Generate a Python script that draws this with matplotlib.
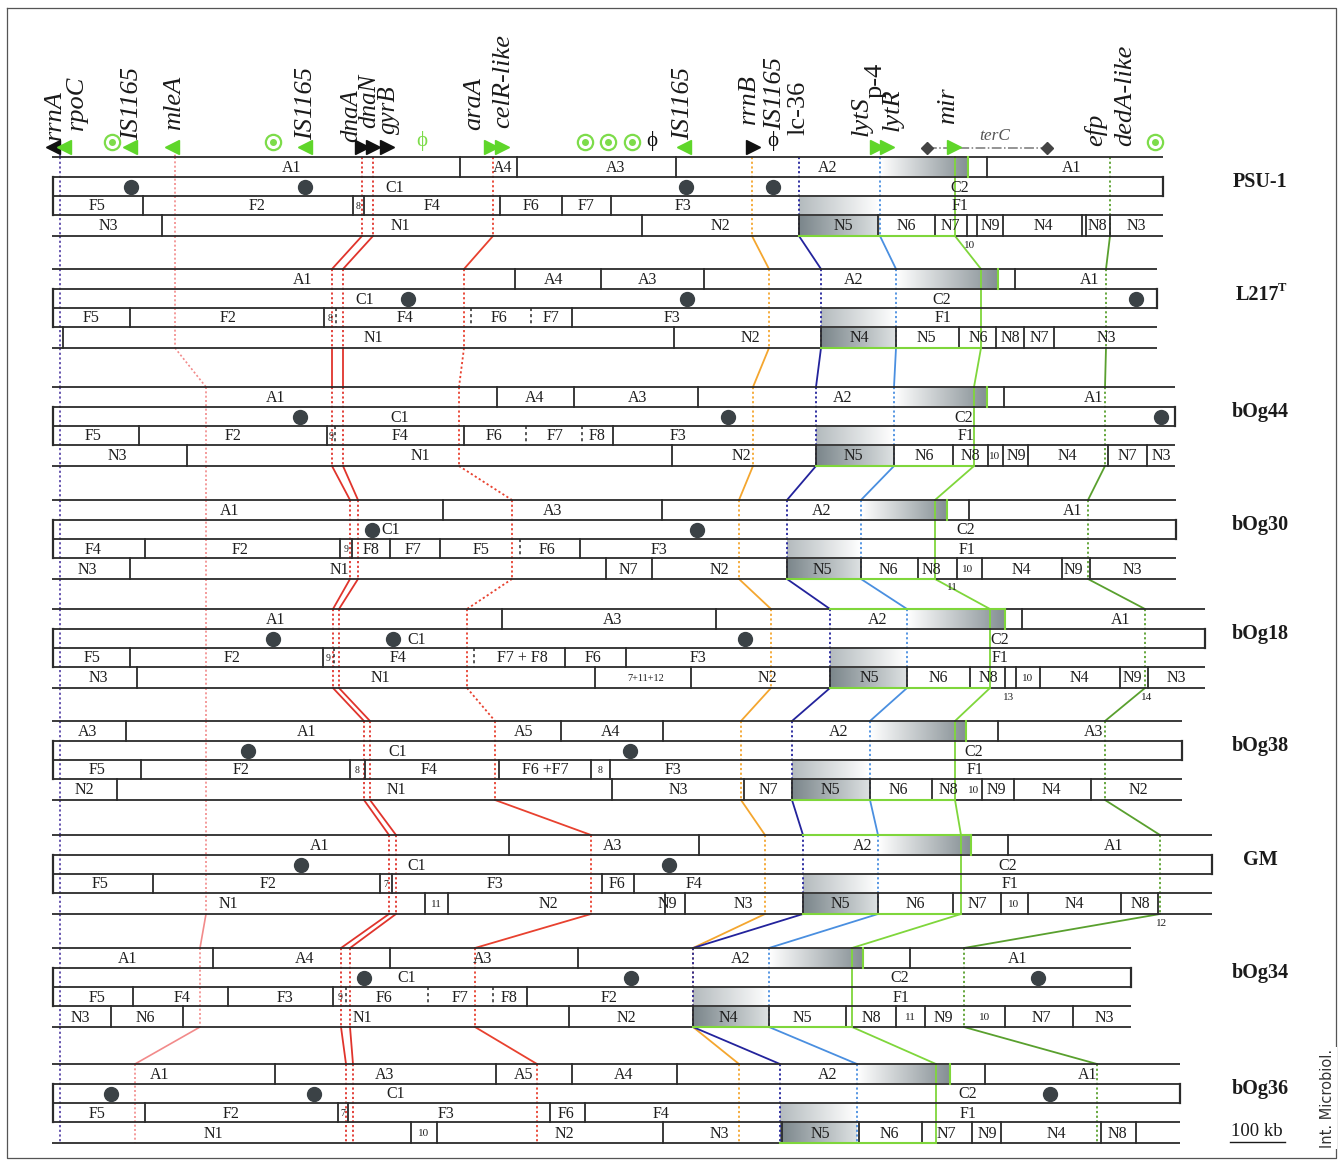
import numpy as np
import matplotlib
matplotlib.use("Agg")
import matplotlib.pyplot as plt
import matplotlib.colors as mcolors

SERIF = ["Liberation Serif", "DejaVu Serif"]

# ---------------- data (map positions) ----------------
STRAINS = ["PSU-1", "L217", "bOg44", "bOg30", "bOg18", "bOg38", "GM", "bOg34", "bOg36"]
ROW_TOP = [157, 269, 387, 500, 609, 721, 835, 948, 1064]
ROW_START = 52
ROW_END = [1163, 1157, 1175, 1176, 1205, 1182, 1212, 1131, 1180]

A_DIV = [[460, 517, 676, 987], [515, 601, 704, 1015], [497, 574, 698, 1004],
         [443, 662, 969], [502, 716, 1022], [126, 561, 663, 998],
         [509, 699, 1008], [213, 390, 578, 910], [275, 496, 572, 677, 985]]
A_LAB = [[("A1", 292), ("A4", 503), ("A3", 616), ("A2", 828), ("A1", 1072)],
         [("A1", 303), ("A4", 554), ("A3", 648), ("A2", 854), ("A1", 1090)],
         [("A1", 276), ("A4", 535), ("A3", 638), ("A2", 843), ("A1", 1094)],
         [("A1", 230), ("A3", 553), ("A2", 822), ("A1", 1073)],
         [("A1", 276), ("A3", 613), ("A2", 878), ("A1", 1121)],
         [("A3", 88), ("A1", 307), ("A5", 524), ("A4", 611), ("A2", 839), ("A3", 1094)],
         [("A1", 320), ("A3", 613), ("A2", 863), ("A1", 1114)],
         [("A1", 128), ("A4", 305), ("A3", 483), ("A2", 741), ("A1", 1018)],
         [("A1", 160), ("A3", 385), ("A5", 524), ("A4", 624), ("A2", 828), ("A1", 1088)]]
A_GRAD_END = [968, 998, 987, 947, 1005, 966, 971, 863, 950]
GREEN_TOP = [False, False, False, False, True, False, True, False, False]

C_LAB = [[("C1", 395), ("C2", 960)], [("C1", 365), ("C2", 942)], [("C1", 400), ("C2", 964)],
         [("C1", 391), ("C2", 966)], [("C1", 417), ("C2", 1000)], [("C1", 398), ("C2", 974)],
         [("C1", 417), ("C2", 1008)], [("C1", 407), ("C2", 900)], [("C1", 396), ("C2", 968)]]
DOTS = [[131, 305, 686, 773], [408, 687, 1136], [300, 728, 1161], [372, 697],
        [273, 393, 745], [248, 630], [301, 669], [364, 631, 1038], [111, 314, 1050]]

F_DIV = [[143, 353, 364, 500, 562, 611], [130, 324, 572], [139, 327, 464, 613],
         [145, 340, 352, 390, 440, 580], [130, 323, 565, 626], [141, 350, 365, 499, 591, 610],
         [153, 380, 392, 602, 634], [133, 228, 333, 527], [145, 338, 348, 550, 585]]
F_DASH = [[], [336, 471, 531], [335, 526, 582], [520], [334, 474], [], [], [346, 428, 493], []]
F_LAB = [[("F5", 97), ("F2", 257), ("8", 358), ("F4", 432), ("F6", 531), ("F7", 586), ("F3", 683), ("F1", 960)],
         [("F5", 91), ("F2", 228), ("8", 330), ("F4", 405), ("F6", 499), ("F7", 551), ("F3", 672), ("F1", 943)],
         [("F5", 93), ("F2", 233), ("9", 331), ("F4", 400), ("F6", 494), ("F7", 555), ("F8", 597), ("F3", 678), ("F1", 966)],
         [("F4", 93), ("F2", 240), ("9", 346), ("F8", 371), ("F7", 413), ("F5", 481), ("F6", 547), ("F3", 659), ("F1", 967)],
         [("F5", 92), ("F2", 232), ("9", 328), ("F4", 398), ("F7 + F8", 522), ("F6", 593), ("F3", 698), ("F1", 1000)],
         [("F5", 97), ("F2", 241), ("8", 357), ("F4", 429), ("F6 +F7", 545), ("8", 600), ("F3", 673), ("F1", 975)],
         [("F5", 100), ("F2", 268), ("7", 386), ("F3", 495), ("F6", 617), ("F4", 694), ("F1", 1010)],
         [("F5", 97), ("F4", 182), ("F3", 285), ("9", 340), ("F6", 384), ("F7", 460), ("F8", 509), ("F2", 609), ("F1", 901)],
         [("F5", 97), ("F2", 231), ("7", 343), ("F3", 446), ("F6", 566), ("F4", 661), ("F1", 968)]]

N_DIV = [[162, 642, 799, 878, 935, 967, 977, 1003, 1082, 1086, 1110],
         [63, 674, 821, 896, 959, 996, 1024, 1054],
         [187, 672, 816, 894, 953, 988, 1003, 1028, 1108, 1147],
         [130, 606, 652, 787, 861, 918, 957, 982, 1062, 1090],
         [137, 595, 691, 830, 907, 970, 1005, 1016, 1040, 1120, 1148],
         [117, 612, 744, 792, 870, 932, 982, 1014, 1091],
         [425, 448, 665, 685, 803, 878, 953, 1001, 1028, 1121, 1158],
         [111, 183, 569, 693, 769, 846, 896, 925, 1005, 1073],
         [411, 437, 663, 782, 859, 922, 972, 1001, 1101, 1136]]
N_LAB = [[("N3", 108), ("N1", 400), ("N2", 720), ("N5", 843), ("N6", 906), ("N7", 950), ("N9", 990), ("N4", 1043), ("N8", 1097), ("N3", 1136)],
         [("N1", 373), ("N2", 750), ("N4", 859), ("N5", 926), ("N6", 978), ("N8", 1010), ("N7", 1039), ("N3", 1106)],
         [("N3", 117), ("N1", 420), ("N2", 741), ("N5", 853), ("N6", 924), ("N8", 970), ("10", 995), ("N9", 1016), ("N4", 1067), ("N7", 1127), ("N3", 1161)],
         [("N3", 87), ("N1", 339), ("N7", 628), ("N2", 719), ("N5", 822), ("N6", 888), ("N8", 931), ("10", 968), ("N4", 1021), ("N9", 1073), ("N3", 1132)],
         [("N3", 98), ("N1", 380), ("7+11+12", 646), ("N2", 767), ("N5", 869), ("N6", 938), ("N8", 988), ("10", 1028), ("N4", 1079), ("N9", 1132), ("N3", 1176)],
         [("N2", 84), ("N1", 396), ("N3", 678), ("N7", 768), ("N5", 830), ("N6", 898), ("N8", 948), ("10", 974), ("N9", 996), ("N4", 1051), ("N2", 1138)],
         [("N1", 228), ("11", 436), ("N2", 548), ("N9", 667), ("N3", 743), ("N5", 840), ("N6", 915), ("N7", 977), ("10", 1014), ("N4", 1074), ("N8", 1140)],
         [("N3", 80), ("N6", 145), ("N1", 362), ("N2", 626), ("N4", 728), ("N5", 802), ("N8", 871), ("11", 910), ("N9", 943), ("10", 985), ("N7", 1041), ("N3", 1104)],
         [("N1", 213), ("10", 424), ("N2", 564), ("N3", 719), ("N5", 820), ("N6", 889), ("N7", 946), ("N9", 987), ("N4", 1056), ("N8", 1117)]]
BELOW_LAB = [(0, "10", 970), (3, "11", 952), (4, "13", 1009), (4, "14", 1147), (6, "12", 1162)]

# marker tracks through the strains
T_RRNA = [60, 60, 60, 60, 60, 60, 60, 60, 60]
T_MLEA = [175, 175, 206, 206, 206, 206, 206, 200, 135]
T_DNAA = [362, 332, 332, 350, 333, 364, 389, 341, 346]
T_DNAN = [373, 343, 343, 358, 339, 370, 396, 350, 353]
T_ARAA = [493, 464, 459, 512, 467, 495, 591, 475, 537]
T_RRNB = [752, 769, 753, 739, 771, 741, 765, 693, 739]
T_LC36 = [799, 821, 816, 787, 830, 792, 803, 693, 780]
T_LYTR = [880, 896, 894, 861, 907, 870, 878, 769, 857]
T_MIR = [955, 981, 974, 935, 990, 955, 961, 852, 936]
T_EFP = [1110, 1106, 1105, 1088, 1145, 1105, 1160, 964, 1097]

# annotation row above PSU-1
GENE_LAB = [("rrnA", 55, 140, True), ("rpoC", 77, 130, True), ("IS1165", 132, 140, True),
            ("mleA", 174, 130, True), ("IS1165", 306, 140, True), ("dnaA", 351, 142, True),
            ("dnaN", 369, 128, True), ("gyrB", 389, 134, True), ("araA", 474, 130, True),
            ("celR-like", 503, 128, True), ("IS1165", 683, 140, True), ("rrnB", 749, 124, True),
            ("IS1165", 775, 130, True), ("lc-36", 798, 135, False), ("lytS", 862, 136, True),
            ("p-4", 876, 98, False), ("lytR", 893, 131, True), ("mir", 948, 124, True),
            ("efp", 1096, 146, True), ("dedA-like", 1125, 146, True)]
MARK_LEFT_BLACK = [53]
MARK_LEFT_GREEN = [64, 130, 172, 305, 684]
MARK_RIGHT_BLACK = [362, 373, 387, 753]
MARK_RIGHT_GREEN = [491, 502, 877, 887, 954]
TARGETS = [112, 273, 585, 608, 632, 1155]
PHI_GREEN = [422]
PHI_BLACK = [652, 773]
TERC = [927, 1047]

# ---------------- drawing ----------------
ROW_OFF = [0, 20, 39, 58, 79]
LINE = "#2b2b2b"
GREEN_L = "#7fd63b"

fig = plt.figure(figsize=(13.44, 11.61), dpi=100)
ax = fig.add_axes([0, 0, 1, 1])
ax.axis("off")


def ys_of(i):
    return [ROW_TOP[i] + o for o in ROW_OFF]


def hgrad(x0, x1, y0, y1, cl, cr, z=1):
    t = np.linspace(0, 1, 80)
    a = np.array(mcolors.to_rgb(cl))
    b = np.array(mcolors.to_rgb(cr))
    img = (a[None, :] * (1 - t[:, None]) + b[None, :] * t[:, None])[None, :, :]
    ax.imshow(img, extent=(x0, x1, y1, y0), aspect="auto", zorder=z, interpolation="bilinear")


def seg_text(x, y, s):
    if s in ("7", "8", "9"):
        fs = 7
    elif s in ("10", "11", "12", "13", "14"):
        fs = 8
    elif s == "7+11+12":
        fs = 7.5
    else:
        fs = 11.5
    ax.text(x, y, s, ha="center", va="center", fontsize=fs, family=SERIF, color="#1e1e1e", zorder=6)


# frame
ax.plot([7, 1336, 1336, 7, 7], [8, 8, 1158, 1158, 8], color="#555555", lw=0.9, zorder=0)

# gradients (inverted region)
for i in range(9):
    y = ys_of(i)
    hgrad(T_LYTR[i], A_GRAD_END[i], y[0] + 1, y[1] - 1, "#ffffff", "#858f94")
    hgrad(T_LC36[i], T_LYTR[i], y[2] + 1, y[3] - 1, "#b4bbbe", "#ffffff")
    hgrad(T_LC36[i], T_LYTR[i], y[3] + 1, y[4] - 1, "#7b868b", "#dde1e2")

# tracks
DOT = (0, (1.2, 1.4))
tracks = [
    (T_RRNA, "#5a48a8", DOT, ["dot"] * 8, 1.3),
    (T_MLEA, "#f28a8a", DOT, ["dot"] * 6 + ["solid"] * 2, 1.2),
    (T_DNAA, "#e0342c", DOT, ["solid"] * 8, 1.3),
    (T_DNAN, "#e0342c", DOT, ["solid"] * 8, 1.3),
    (T_ARAA, "#e8412f", DOT, ["solid", "dot", "dot", "dot", "dot", "solid", "solid", "solid"], 1.3),
    (T_RRNB, "#f4a62f", DOT, ["solid"] * 8, 1.3),
    (T_LC36, "#23239c", DOT, ["solid"] * 8, 1.3),
    (T_LYTR, "#4a8fe0", DOT, ["solid"] * 8, 1.3),
    (T_MIR, GREEN_L, "-", ["solid"] * 8, 1.3),
    (T_EFP, "#59a02e", DOT, ["solid"] * 8, 1.3),
]
for xs, col, ins, conn, lw in tracks:
    for i in range(9):
        y = ys_of(i)
        ax.plot([xs[i], xs[i]], [y[0], y[4]], color=col, lw=lw, ls=ins, zorder=2)
        if i < 8:
            ls = DOT if conn[i] == "dot" else "-"
            ax.plot([xs[i], xs[i + 1]], [y[4], ROW_TOP[i + 1]], color=col, lw=lw, ls=ls, zorder=2)
for xs in (T_RRNA, T_MLEA):
    ax.plot([xs[0], xs[0]], [150, ROW_TOP[0]], color="#5a48a8" if xs is T_RRNA else "#f28a8a",
            lw=1.3, ls=DOT, zorder=2)

# strain boxes
for i in range(9):
    y = ys_of(i)
    x0, x1 = ROW_START, ROW_END[i]
    for yy in y:
        ax.plot([x0, x1], [yy, yy], color=LINE, lw=1.3, zorder=3, solid_capstyle="butt")
    ax.plot([x0 + 1, x0 + 1], [y[1], y[3]], color=LINE, lw=1.6, zorder=3)
    ax.plot([x1, x1], [y[1], y[2]], color=LINE, lw=1.6, zorder=3)
    for xv in A_DIV[i]:
        ax.plot([xv, xv], [y[0], y[1]], color=LINE, lw=1.3, zorder=3)
    for xv in F_DIV[i]:
        ax.plot([xv, xv], [y[2], y[3]], color=LINE, lw=1.3, zorder=3)
    for xv in F_DASH[i]:
        ax.plot([xv, xv], [y[2], y[3]], color=LINE, lw=1.1, ls=(0, (2, 2)), zorder=3)
    for xv in N_DIV[i]:
        ax.plot([xv, xv], [y[3], y[4]], color=LINE, lw=1.3, zorder=3)
    # green outline of inverted region
    ax.plot([A_GRAD_END[i]] * 2, [y[0], y[1]], color=GREEN_L, lw=1.5, zorder=4)
    ax.plot([T_LC36[i], T_MIR[i]], [y[4], y[4]], color=GREEN_L, lw=1.5, zorder=4)
    if GREEN_TOP[i]:
        ax.plot([T_LC36[i], A_GRAD_END[i]], [y[0], y[0]], color=GREEN_L, lw=1.5, zorder=4)
    # labels
    for s, x in A_LAB[i]:
        seg_text(x, (y[0] + y[1]) / 2 + 1, s)
    for s, x in C_LAB[i]:
        seg_text(x, (y[1] + y[2]) / 2 + 1, s)
    for s, x in F_LAB[i]:
        seg_text(x, (y[2] + y[3]) / 2 + 1, s)
    for s, x in N_LAB[i]:
        seg_text(x, (y[3] + y[4]) / 2 + 1, s)
    ax.plot(DOTS[i], [(y[1] + y[2]) / 2] * len(DOTS[i]), "o", color="#3b4246", ms=10, zorder=5)
    # strain name
    if STRAINS[i] == "L217":
        ax.text(1257, y[0] + 26, "L217", ha="center", va="center", fontsize=14.5,
                fontweight="bold", family=SERIF, color="#1a1a1a")
        ax.text(1282, y[0] + 19, "T", ha="center", va="center", fontsize=9,
                fontweight="bold", family=SERIF, color="#1a1a1a")
    else:
        ax.text(1260, y[0] + 25, STRAINS[i], ha="center", va="center", fontsize=14.5,
                fontweight="bold", family=SERIF, color="#1a1a1a")

for i, s, x in BELOW_LAB:
    seg_text(x, ys_of(i)[4] + 9, s)

# annotation markers
MY = 147
ax.plot(MARK_LEFT_BLACK, [MY] * len(MARK_LEFT_BLACK), "<", color="#111111", ms=10, zorder=5)
ax.plot(MARK_LEFT_GREEN, [MY] * len(MARK_LEFT_GREEN), "<", color="#5fd62a", ms=10, zorder=5)
ax.plot(MARK_RIGHT_BLACK, [MY] * len(MARK_RIGHT_BLACK), ">", color="#111111", ms=10, zorder=5)
ax.plot(MARK_RIGHT_GREEN, [MY] * len(MARK_RIGHT_GREEN), ">", color="#5fd62a", ms=10, zorder=5)
ax.plot(TARGETS, [142] * len(TARGETS), "o", mfc="none", mec="#7ddc4a", mew=1.6, ms=11, zorder=5)
ax.plot(TARGETS, [142] * len(TARGETS), "o", color="#7ddc4a", ms=4, zorder=5)
for x in PHI_GREEN:
    ax.text(x, 141, "ϕ", ha="center", va="center", fontsize=15, color="#7ddc4a", family=SERIF)
for x in PHI_BLACK:
    ax.text(x, 141, "ϕ", ha="center", va="center", fontsize=15, color="#111111", family=SERIF)
ax.plot(TERC, [148, 148], color="#777777", lw=1.1, ls="-.", zorder=4)
ax.plot(TERC, [148, 148], "D", color="#444444", ms=6, zorder=5)
ax.text(995, 136, "terC", ha="center", va="center", fontsize=12.5, style="italic",
        family=SERIF, color="#555555")

for s, x, yb, it in GENE_LAB:
    fs = 18 if s in ("dnaA", "dnaN", "gyrB") else 19
    ax.text(x, yb, s, rotation=90, ha="center", va="bottom", fontsize=fs,
            style="italic" if it else "normal", family=SERIF, color="#1a1a1a")

# scale bar and credit
ax.text(1257, 1132, "100 kb", ha="center", va="center", fontsize=13.5, family=SERIF, color="#1a1a1a")
ax.plot([1230, 1285], [1142, 1142], color="#1a1a1a", lw=1)
ax.text(1328, 1098, "Int. Microbiol.", rotation=90, ha="center", va="center", fontsize=10.5,
        family=["DejaVu Sans"], color="#333333",
        bbox=dict(facecolor="white", edgecolor="none", pad=1))

ax.set_xlim(0, 1344)
ax.set_ylim(1161, 0)
fig.savefig("out.png", dpi=100)
